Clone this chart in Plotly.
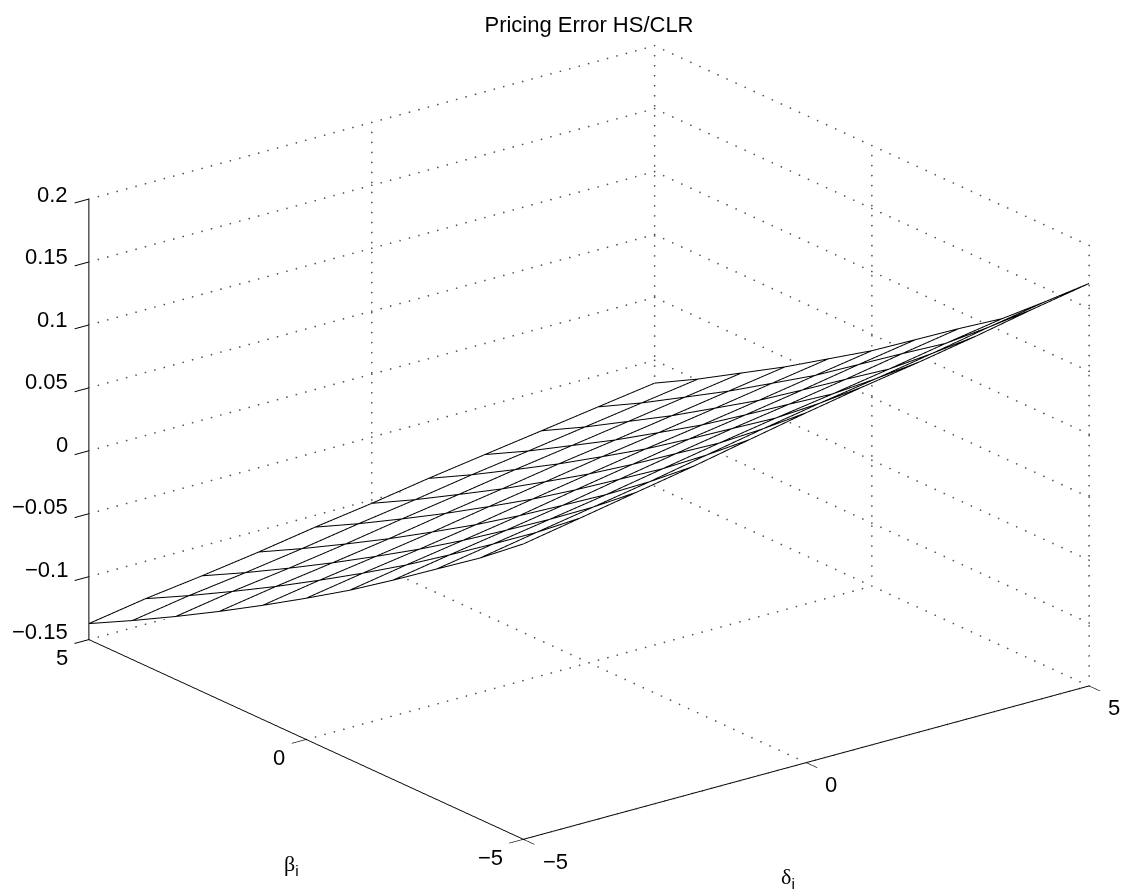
import plotly.graph_objects as go

delta_vals = [-5, -4, -3, -2, -1, 0, 1, 2, 3, 4, 5]
beta_vals = [-5, -4, -3, -2, -1, 0, 1, 2, 3, 4, 5]
pricing_error = [
    [0.0847, 0.0930, 0.1014, 0.1097, 0.1189, 0.1280, 0.1364, 0.1440, 0.1523, 0.1615, 0.1698],
    [0.0576, 0.0658, 0.0737, 0.0817, 0.0906, 0.0993, 0.1074, 0.1148, 0.1228, 0.1315, 0.1396],
    [0.0330, 0.0407, 0.0481, 0.0556, 0.0640, 0.0722, 0.0799, 0.0868, 0.0944, 0.1026, 0.1101],
    [0.0083, 0.0162, 0.0236, 0.0312, 0.0397, 0.0479, 0.0557, 0.0628, 0.0704, 0.0786, 0.0863],
    [-0.0156, -0.0077, -0.0004, 0.0071, 0.0155, 0.0235, 0.0314, 0.0385, 0.0460, 0.0541, 0.0616],
    [-0.0378, -0.0301, -0.0232, -0.0159, -0.0078, 0.0000, 0.0077, 0.0146, 0.0219, 0.0296, 0.0370],
    [-0.0593, -0.0516, -0.0448, -0.0376, -0.0296, -0.0220, -0.0143, -0.0074, -0.0001, 0.0074, 0.0147],
    [-0.0800, -0.0724, -0.0658, -0.0588, -0.0509, -0.0436, -0.0359, -0.0291, -0.0220, -0.0147, -0.0076],
    [-0.0999, -0.0922, -0.0859, -0.0789, -0.0711, -0.0639, -0.0563, -0.0494, -0.0424, -0.0353, -0.0283],
    [-0.1190, -0.1114, -0.1053, -0.0984, -0.0908, -0.0839, -0.0763, -0.0696, -0.0627, -0.0558, -0.0490],
    [-0.1373, -0.1297, -0.1237, -0.1170, -0.1094, -0.1027, -0.0951, -0.0883, -0.0816, -0.0748, -0.0681],
]
xy_ticks = [-5, 0, 5]
xy_labels = ["−5", "0", "5"]
z_ticks = [-0.15, -0.1, -0.05, 0, 0.05, 0.1, 0.15, 0.2]
z_labels = ["−0.15", "−0.1", "−0.05", "0", "0.05", "0.1", "0.15", "0.2"]
TITLE = "Pricing Error HS/CLR"
FONT = "Liberation Sans, Arial, sans-serif"
FS = 22
W, H = 1126, 894
zlo, zhi = z_ticks[0], z_ticks[-1]
xlo, xhi = xy_ticks[0], xy_ticks[-1]

fig = go.Figure()

# dotted grid on the back walls and the floor, drawn as fine dots
gx, gy, gz = [], [], []
def dots(p, q, n):
    for k in range(n + 1):
        t = k / n
        gx.append(p[0] + (q[0] - p[0]) * t)
        gy.append(p[1] + (q[1] - p[1]) * t)
        gz.append(p[2] + (q[2] - p[2]) * t)
for z in z_ticks:
    dots((xlo, xhi, z), (xhi, xhi, z), 60)
    dots((xhi, xhi, z), (xhi, xlo, z), 48)
for x in xy_ticks[1:]:
    dots((x, xhi, zlo), (x, xhi, zhi), 44)
    dots((x, xlo, zlo), (x, xhi, zlo), 48)
for y in xy_ticks[:2]:
    dots((xhi, y, zlo), (xhi, y, zhi), 44)
    dots((xlo, y, zlo), (xhi, y, zlo), 60)
fig.add_trace(go.Scatter3d(x=gx, y=gy, z=gz, mode="markers",
                           marker=dict(color="#555555", size=1, line=dict(width=0)),
                           hoverinfo="skip", showlegend=False))

# white faces just under the mesh, so the mesh hides what lies behind it
fig.add_trace(go.Surface(
    x=delta_vals, y=beta_vals, z=[[v - 0.0012 for v in row] for row in pricing_error],
    colorscale=[[0, "white"], [1, "white"]], showscale=False, hoverinfo="skip",
    lighting=dict(ambient=1, diffuse=0, specular=0, roughness=1, fresnel=0),
))

# mesh lines
mx, my, mz = [], [], []
for j, b in enumerate(beta_vals):
    for i, d in enumerate(delta_vals):
        mx.append(d); my.append(b); mz.append(pricing_error[j][i])
    mx.append(None); my.append(None); mz.append(None)
for i, d in enumerate(delta_vals):
    for j, b in enumerate(beta_vals):
        mx.append(d); my.append(b); mz.append(pricing_error[j][i])
    mx.append(None); my.append(None); mz.append(None)
fig.add_trace(go.Scatter3d(x=mx, y=my, z=mz, mode="lines",
                           line=dict(color="black", width=2), showlegend=False))

def axis(vals, rng):
    return dict(range=rng, autorange=False, tickmode="array", tickvals=vals,
                showgrid=False, zeroline=False, showbackground=False, showspikes=False,
                showline=True, linecolor="black", linewidth=2, ticks="outside", ticklen=18,
                tickcolor="black", tickwidth=2, showticklabels=False, title=dict(text=""))

tf = dict(family=FONT, size=FS, color="black")
notes = []
for k, (v, s) in enumerate(zip(z_ticks, z_labels)):
    notes.append(dict(x=xlo, y=xhi, z=v, text=s, showarrow=False, font=tf,
                      xanchor="right", xshift=-19, yshift=8 - 3 * k / 7))
for v, s, dx in zip(xy_ticks, xy_labels, (-33, -27, -27)):
    notes.append(dict(x=xlo, y=v, z=zlo, text=s, showarrow=False, font=tf, xshift=dx, yshift=-18))
for v, s, dx in zip(xy_ticks, xy_labels, (32, 25, 25)):
    notes.append(dict(x=v, y=xlo, z=zlo, text=s, showarrow=False, font=tf, xshift=dx, yshift=-22))
greek = "<span style='font-family:Liberation Serif'>%s</span><sub>i</sub>"
notes.append(dict(x=xlo, y=0, z=zlo, text=greek % "β", showarrow=False, font=tf, xshift=-15, yshift=-126))
notes.append(dict(x=0, y=xlo, z=zlo, text=greek % "δ", showarrow=False, font=tf, xshift=-18, yshift=-115))

el_s, el_c = 0.353, 0.9356
r = 1.22
fig.update_layout(
    width=W, height=H, autosize=False,
    margin=dict(l=0, r=0, t=0, b=0),
    paper_bgcolor="white",
    showlegend=False,
    title=dict(text=TITLE, x=589 / W, xanchor="center", y=1 - 24 / H, yanchor="middle",
               font=dict(family=FONT, size=FS, color="black")),
    scene=dict(
        domain=dict(x=[52 / W, 1], y=[9 / H, 1]),
        bgcolor="white",
        aspectmode="manual",
        aspectratio=dict(x=1.612, y=1.612, z=1.064),
        camera=dict(projection=dict(type="orthographic"),
                    up=dict(x=0, y=0, z=1), center=dict(x=0, y=0, z=0),
                    eye=dict(x=-0.609 * el_c * r, y=-0.793 * el_c * r, z=el_s * r)),
        xaxis=axis(xy_ticks, [-5, 5]),
        yaxis=axis(xy_ticks, [-5, 5]),
        zaxis=axis(z_ticks, [zlo, zhi]),
        annotations=notes,
    ),
)
fig.write_html("out.html", config={"displayModeBar": False},
               post_script="document.body.style.margin='0';document.body.style.overflow='hidden';")
